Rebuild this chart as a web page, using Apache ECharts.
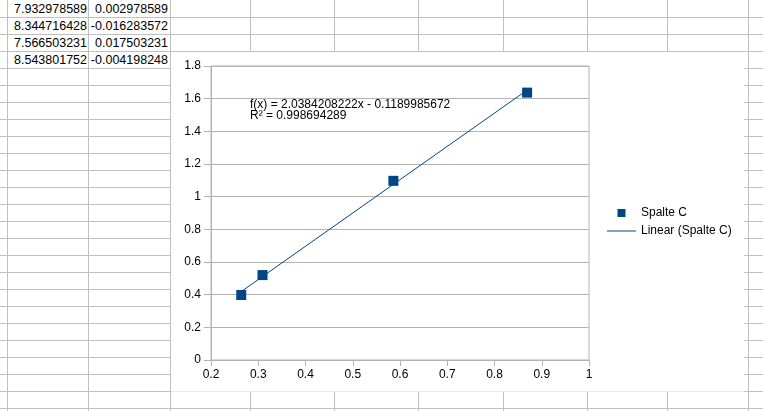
<!DOCTYPE html>
<html>
<head>
<meta charset="utf-8">
<script src="https://cdn.jsdelivr.net/npm/echarts@6/dist/echarts.min.js"></script>
<style>
  html, body { margin: 0; padding: 0; width: 763px; height: 411px; overflow: hidden; background: #fff; }
  #sheet { position: absolute; left: 0; top: 0; width: 763px; height: 411px; overflow: hidden; font-family: "Liberation Sans", Arial, sans-serif; }
  .vl { position: absolute; top: 0; width: 1px; height: 411px; background: #c0c0c0; }
  .hl { position: absolute; left: 0; height: 1px; width: 763px; background: #c0c0c0; }
  .cell { position: absolute; font-size: 12.5px; color: #000; text-align: right; height: 17px; line-height: 17px; white-space: nowrap; }
  #chartbg { position: absolute; left: 171px; top: 52px; width: 573px; height: 339px; background: #fff; }
  #chartbottom { position: absolute; left: 171px; top: 391px; width: 573px; height: 1px; background: #ebebeb; }
  #chart { position: absolute; left: 0; top: 0; width: 763px; height: 411px; }
</style>
</head>
<body>
<div id="sheet"></div>
<div id="chartbg"></div>
<div id="chartbottom"></div>
<div id="chart"></div>
<script>
// ---- spreadsheet cell contents (columns A and B, rows 1-4) ----
const cellColA = ["7.932978589", "8.344716428", "7.566503231", "8.543801752"];
const cellColB = ["0.002978589", "-0.016283572", "0.017503231", "-0.004198248"];

// ---- chart data ----
const xValues = [0.264, 0.309, 0.586, 0.869];
const yValues = [0.398, 0.520, 1.097, 1.637];
const seriesName = "Spalte C";
const trendName = "Linear (Spalte C)";
const trendSlope = 2.0384208222;
const trendIntercept = -0.1189985672;
const trendEquation = "f(x) = 2.0384208222x - 0.1189985672";
const trendR2 = "R\u00b2 = 0.998694289";
const xTicks = { min: 0.2, max: 1, interval: 0.1 };
const yTicks = { min: 0, max: 1.8, interval: 0.2 };

// ---- spreadsheet background ----
const sheet = document.getElementById('sheet');
const colLines = [7, 88, 170, 250, 334, 418, 503, 587, 667, 748];
for (const x of colLines) {
  const d = document.createElement('div'); d.className = 'vl'; d.style.left = x + 'px'; sheet.appendChild(d);
}
for (let k = 1; k <= 24; k++) {
  const d = document.createElement('div'); d.className = 'hl'; d.style.top = (17 * k) + 'px'; sheet.appendChild(d);
}
function addCell(text, right, row) {
  const d = document.createElement('div');
  d.className = 'cell';
  d.textContent = text;
  d.style.right = (763 - right) + 'px';
  d.style.top = (17 * row + 1) + 'px';
  sheet.appendChild(d);
}
cellColA.forEach((t, i) => addCell(t, 87, i));
cellColB.forEach((t, i) => addCell(t, 168, i));

// ---- chart ----
const scatterData = xValues.map((x, i) => [x, yValues[i]]);
const xMinData = Math.min(...xValues), xMaxData = Math.max(...xValues);
const trendData = [xMinData, xMaxData].map(x => [x, trendSlope * x + trendIntercept]);

const chart = echarts.init(document.getElementById('chart'), null, { renderer: 'canvas' });
const gray = '#b3b3b3';
const font = '"Liberation Sans", Arial, sans-serif';
chart.setOption({
  animation: false,
  backgroundColor: 'transparent',
  textStyle: { fontFamily: font },
  grid: { left: 211, right: 174, top: 66, bottom: 51, show: true, borderColor: gray, borderWidth: 1, backgroundColor: 'transparent' },
  xAxis: {
    type: 'value', min: xTicks.min, max: xTicks.max, interval: xTicks.interval,
    axisLine: { show: true, onZero: false, lineStyle: { color: gray, width: 1 } },
    axisTick: { show: true, length: 6, lineStyle: { color: gray } },
    splitLine: { show: false },
    axisLabel: { color: '#000', fontSize: 12, fontFamily: font, margin: 9 }
  },
  yAxis: {
    type: 'value', min: yTicks.min, max: yTicks.max, interval: yTicks.interval,
    axisLine: { show: true, lineStyle: { color: gray, width: 1 } },
    axisTick: { show: true, length: 7, lineStyle: { color: gray } },
    splitLine: { show: true, lineStyle: { color: gray, width: 1 } },
    axisLabel: { color: '#000', fontSize: 12, fontFamily: font, margin: 10 }
  },
  legend: {
    orient: 'vertical', left: 607, top: 206, padding: 0,
    itemWidth: 29, itemHeight: 8, itemGap: 4,
    symbolKeepAspect: true,
    textStyle: { color: '#000', fontSize: 12, fontFamily: font, lineHeight: 14 },
    data: [
      { name: seriesName, icon: 'path://M0,0L10,0L10,10L0,10Z' },
      { name: trendName, icon: 'path://M0,0L29,0L29,1L0,1Z' }
    ]
  },
  graphic: [
    { type: 'text', left: 250, top: 99, z: 10, style: { text: trendEquation, fill: '#000', font: '12px ' + font } },
    { type: 'text', left: 250, top: 110, z: 10, style: { text: trendR2, fill: '#000', font: '12px ' + font } }
  ],
  series: [
    {
      name: trendName, type: 'line', data: trendData, symbol: 'none', z: 1,
      lineStyle: { color: '#004586', width: 1 }, itemStyle: { color: '#004586' }
    },
    {
      name: seriesName, type: 'scatter', data: scatterData, symbol: 'rect', symbolSize: 10, z: 3,
      itemStyle: { color: '#004586', opacity: 1 }
    }
  ]
});
</script>
</body>
</html>
